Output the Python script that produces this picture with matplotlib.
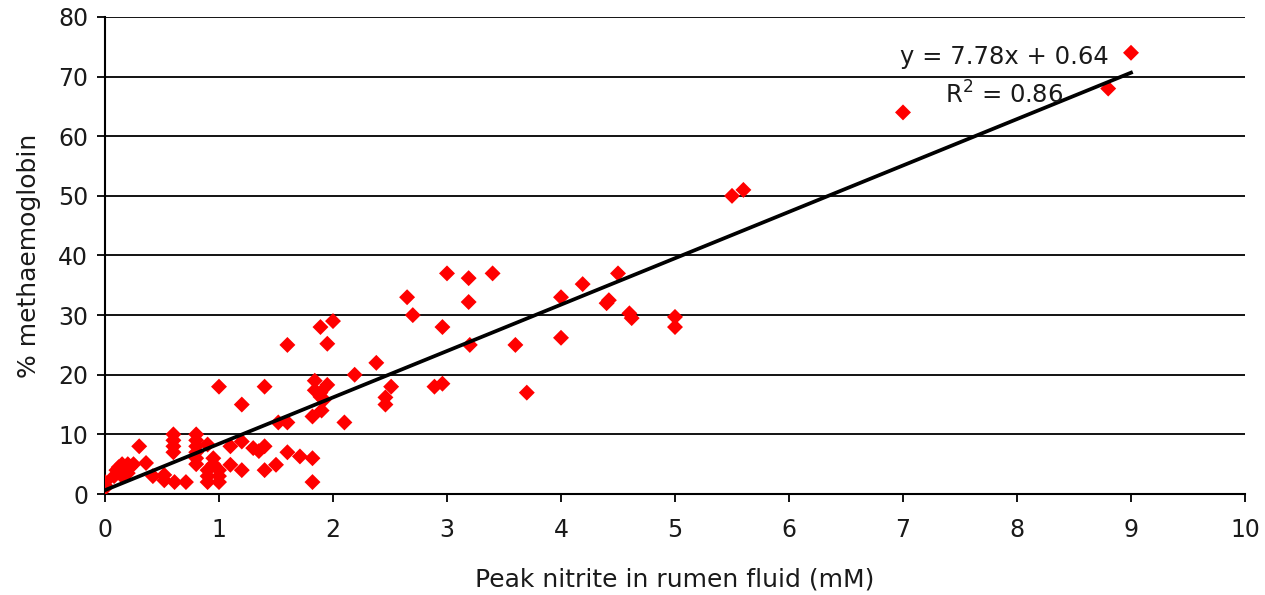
import matplotlib
matplotlib.use("Agg")
import matplotlib.pyplot as plt
import numpy as np

# Data
nitrite = [
    0.0, 0.0, 0.0,
    0.08, 0.1, 0.12, 0.15, 0.18, 0.2, 0.22, 0.25, 0.15, 0.2,
    0.3, 0.36, 0.42, 0.52, 0.52, 0.61, 0.71,
    0.6, 0.6, 0.6, 0.6,
    0.8, 0.8, 0.8, 0.8, 0.8, 0.8,
    0.9, 0.9, 0.9, 0.9, 0.95, 0.95, 1.0, 1.0, 1.0,
    1.0, 1.1, 1.1, 1.2, 1.2, 1.2,
    1.3, 1.35, 1.4, 1.4, 1.4, 1.5, 1.52, 1.6, 1.6, 1.6,
    1.71, 1.82, 1.82, 1.82,
    1.84, 1.84, 1.89, 1.89, 1.9, 1.92, 1.95, 1.95, 2.0, 1.89,
    2.1, 2.19, 2.38, 2.46, 2.46, 2.51,
    2.65, 2.7, 2.89, 2.96, 2.96, 3.0,
    3.19, 3.19, 3.2, 3.4, 3.6, 3.7,
    4.0, 4.0, 4.19, 4.4, 4.42, 4.5, 4.6, 4.62,
    5.0, 5.0, 5.5, 5.6, 7.0, 8.8, 9.0,
]
methb = [
    2.0, 1.0, 1.5,
    3.0, 4.0, 4.5, 5.0, 4.0, 5.0, 4.5, 5.0, 3.0, 3.5,
    8.0, 5.2, 3.0, 2.3, 3.2, 2.0, 2.0,
    10.0, 9.0, 8.0, 7.0,
    10.0, 9.0, 8.0, 7.0, 6.0, 5.0,
    8.3, 4.0, 3.0, 2.0, 6.0, 5.0, 4.0, 3.0, 2.0,
    18.0, 8.0, 4.9, 15.0, 8.8, 4.0,
    7.7, 7.2, 8.0, 18.0, 4.0, 4.9, 12.0, 12.0, 25.0, 7.0,
    6.3, 13.0, 6.0, 2.0,
    19.0, 17.4, 28.0, 17.0, 14.0, 15.8, 18.3, 25.2, 29.0, 16.3,
    12.0, 20.0, 22.0, 16.2, 15.0, 18.0,
    33.0, 30.0, 18.0, 18.5, 28.0, 37.0,
    36.2, 32.2, 25.0, 37.0, 25.0, 17.0,
    33.0, 26.2, 35.2, 32.0, 32.5, 37.0, 30.3, 29.5,
    29.7, 28.0, 50.0, 51.0, 64.0, 68.0, 74.0,
]
slope = 7.78
intercept = 0.64
r_squared = 0.86
fit_x = [0.0, 9.0]

x_ticks = list(range(0, 11))
y_ticks = list(range(0, 81, 10))

TXT = "#1a1a1a"

fig = plt.figure(figsize=(12.65, 5.95), dpi=100)
ax = fig.add_axes([105/1265, 101/595, 1140/1265, 477/595])

ax.set_xlim(0, 10)
ax.set_ylim(0, 80)
ax.set_xticks(x_ticks)
ax.set_yticks(y_ticks)

for yv in y_ticks[1:]:
    ax.axhline(yv, color="black", lw=1.3, zorder=1)

ax.scatter(nitrite, methb, marker="D", s=66, color="#ff0000", edgecolors="none", zorder=3)

fx = np.array(fit_x)
ax.plot(fx, slope * fx + intercept, color="black", lw=2.7, zorder=4)

ax.text(7.89, 73.3, f"y = {slope:.2f}x + {intercept:.2f}", ha="center", va="center",
        fontsize=17.5, color=TXT, zorder=5)
ax.text(7.89, 67.0, f"R$^2$ = {r_squared:.2f}", ha="center", va="center",
        fontsize=17.5, color=TXT, zorder=5)

for s in ["top", "right"]:
    ax.spines[s].set_visible(False)
for s in ["left", "bottom"]:
    ax.spines[s].set_linewidth(1.5)
    ax.spines[s].set_zorder(2)

ax.tick_params(axis="both", direction="out", length=6, width=1.3, labelsize=17,
               colors="black", labelcolor=TXT)
ax.tick_params(axis="x", pad=11)
ax.tick_params(axis="y", pad=6)

ax.set_xlabel("Peak nitrite in rumen fluid (mM)", fontsize=18, color=TXT, labelpad=19)
ax.set_ylabel("% methaemoglobin", fontsize=18, color=TXT, labelpad=12)

fig.savefig("out.png", dpi=100)
